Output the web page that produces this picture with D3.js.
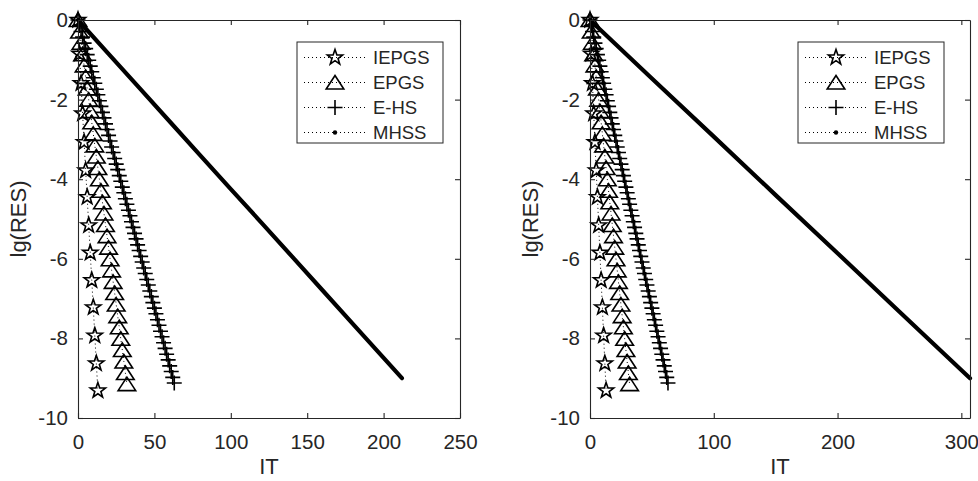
<!DOCTYPE html>
<html><head><meta charset="utf-8">
<script src="https://cdn.jsdelivr.net/npm/d3@7"></script>
<style>
body{margin:0;background:#fff}
svg text{font-family:"Liberation Sans",Arial,Helvetica,sans-serif;fill:#262626}
</style>
</head><body>
<svg id="c" width="978" height="481"></svg>
<script>
// ---------------- data ----------------
const iepgsIT  = [0,1,2,3,4,5,6,7,8,9,10,11,12,13];
const iepgsRES = [0,-0.85,-1.59,-2.35,-3.07,-3.78,-4.45,-5.16,-5.85,-6.54,-7.22,-7.93,-8.63,-9.31];

const epgsIT  = [0,1,2,3,4,5,6,7,8,9,10,11,12,13,14,15,16,17,18,19,20,21,22,23,24,25,26,27,28,29,30,31,32];
const epgsRES = [0,-0.29,-0.57,-0.86,-1.14,-1.43,-1.72,-2.00,-2.29,-2.57,-2.86,-3.15,-3.43,-3.72,-4.00,-4.29,-4.58,-4.86,-5.15,-5.43,-5.72,-6.01,-6.29,-6.58,-6.86,-7.15,-7.44,-7.72,-8.01,-8.29,-8.58,-8.87,-9.15];

const ehsIT  = [0,1,2,3,4,5,6,7,8,9,10,11,12,13,14,15,16,17,18,19,20,21,22,23,24,25,26,27,28,29,30,31,32,33,34,35,36,37,38,39,40,41,42,43,44,45,46,47,48,49,50,51,52,53,54,55,56,57,58,59,60,61,62,63];
const ehsRES = [0,-0.14,-0.29,-0.43,-0.58,-0.72,-0.87,-1.01,-1.16,-1.30,-1.45,-1.59,-1.74,-1.88,-2.03,-2.17,-2.32,-2.46,-2.61,-2.75,-2.90,-3.04,-3.19,-3.33,-3.48,-3.62,-3.76,-3.91,-4.05,-4.20,-4.34,-4.49,-4.63,-4.78,-4.92,-5.07,-5.21,-5.36,-5.50,-5.65,-5.79,-5.94,-6.08,-6.23,-6.37,-6.52,-6.66,-6.81,-6.95,-7.10,-7.24,-7.38,-7.53,-7.67,-7.82,-7.96,-8.11,-8.25,-8.40,-8.54,-8.69,-8.83,-8.98,-9.12];

// MHSS (dense dot markers forming a solid band) – readings along the band
const mhssLeftIT   = [0,20,40,60,80,100,120,140,160,180,200,212];
const mhssLeftRES  = [0,-0.85,-1.70,-2.55,-3.40,-4.25,-5.09,-5.94,-6.79,-7.64,-8.49,-9.00];
const mhssRightIT  = [0,50,100,150,200,250,307];
const mhssRightRES = [0,-1.47,-2.93,-4.40,-5.86,-7.33,-9.00];

const xTicksLeft  = [0,50,100,150,200,250];
const xTicksRight = [0,100,200,300];
const yTicks      = [0,-2,-4,-6,-8,-10];
const seriesNames = ["IEPGS","EPGS","E-HS","MHSS"];
const xLabel = "IT", yLabel = "lg(RES)";

// ---------------- drawing ----------------
const svg = d3.select("#c");
const zip = (xs, ys) => xs.map((x,i)=>({x, y: ys[i]}));

function starPath(R){
  const r = R*0.40, pts=[];
  for(let k=0;k<10;k++){
    const a = -Math.PI/2 + k*Math.PI/5, rr = k%2? r : R;
    pts.push([rr*Math.cos(a), rr*Math.sin(a)]);
  }
  return "M"+pts.map(p=>p[0].toFixed(2)+","+p[1].toFixed(2)).join("L")+"Z";
}
const markerPaths = {
  star: starPath(8),
  tri: "M0,-7L8.8,6.5L-8.8,6.5Z",
  plus: "M-7.5,0H7.5M0,-7.5V7.5"
};

const panels = [
  {left:78, right:460, xMax:250, xTicks:xTicksLeft,  mIT:mhssLeftIT,  mRES:mhssLeftRES, boxL:297},
  {left:590,right:970, xMax:307, xTicks:xTicksRight, mIT:mhssRightIT, mRES:mhssRightRES, boxL:798}
];
const plotTop = 20, plotBottom = 418;
const axCol = "#262626";

panels.forEach(p => {
  const g = svg.append("g");
  const x = d3.scaleLinear().domain([0,p.xMax]).range([p.left,p.right]);
  const y = d3.scaleLinear().domain([-10,0]).range([plotBottom,plotTop]);

  const series = [
    {name:seriesNames[0], data:zip(iepgsIT,iepgsRES), marker:"star"},
    {name:seriesNames[1], data:zip(epgsIT,epgsRES), marker:"tri"},
    {name:seriesNames[2], data:zip(ehsIT,ehsRES), marker:"plus"},
    {name:seriesNames[3], data:zip(p.mIT,p.mRES), marker:"dot"}
  ];

  const line = d3.line().x(d=>x(d.x)).y(d=>y(d.y));
  const plot = g.append("g");

  series.forEach(s => {
    if(s.marker==="dot"){
      plot.append("path").datum(s.data).attr("d",line)
        .attr("fill","none").attr("stroke","#000").attr("stroke-width",4.2)
        .attr("stroke-linecap","round");
    } else {
      plot.append("path").datum(s.data).attr("d",line)
        .attr("fill","none").attr("stroke","#000").attr("stroke-width",1)
        .attr("stroke-dasharray","1,3");
      plot.selectAll(null).data(s.data).enter().append("path")
        .attr("transform",d=>`translate(${x(d.x)},${y(d.y)})`)
        .attr("d",markerPaths[s.marker])
        .attr("fill","none").attr("stroke","#000").attr("stroke-width",1.6)
        .attr("stroke-linejoin","miter");
    }
  });

  // axes (MATLAB box style, inward ticks)
  const ax = g.append("g");
  ax.append("g").attr("transform",`translate(0,${plotBottom})`)
    .call(d3.axisBottom(x).tickValues(p.xTicks).tickSizeInner(-5).tickSizeOuter(0).tickPadding(16).tickFormat(d3.format("d")));
  ax.append("g").attr("transform",`translate(0,${plotTop})`)
    .call(d3.axisTop(x).tickValues(p.xTicks).tickSizeInner(-5).tickSizeOuter(0).tickFormat(""));
  ax.append("g").attr("transform",`translate(${p.left},0)`)
    .call(d3.axisLeft(y).tickValues(yTicks).tickSizeInner(-5).tickSizeOuter(0).tickPadding(10).tickFormat(d=>String(d)));
  ax.append("g").attr("transform",`translate(${p.right},0)`)
    .call(d3.axisRight(y).tickValues(yTicks).tickSizeInner(-5).tickSizeOuter(0).tickFormat(""));
  ax.selectAll(".domain").attr("stroke",axCol).attr("stroke-width",1.1);
  ax.selectAll(".tick line").attr("stroke",axCol).attr("stroke-width",1.1);
  ax.selectAll(".tick text").style("font-size","20.5px").attr("fill",axCol)
    .style("font-family","'Liberation Sans',Arial,sans-serif");

  // axis labels
  g.append("text").attr("x",(p.left+p.right)/2).attr("y",474)
    .attr("text-anchor","middle").style("font-size","22px").text(xLabel);
  g.append("text").attr("transform",`translate(${p.left-52},${(plotTop+plotBottom)/2}) rotate(-90)`)
    .attr("text-anchor","middle").style("font-size","22px").text(yLabel);

  // legend
  const boxL = p.boxL, boxR = boxL + 146;
  const lg = g.append("g");
  lg.append("rect").attr("x",boxL).attr("y",42).attr("width",boxR-boxL).attr("height",101)
    .attr("fill","#fff").attr("stroke",axCol).attr("stroke-width",1);
  series.forEach((s,i) => {
    const cy = 57.5 + i*25;
    lg.append("line").attr("x1",boxL+7).attr("x2",boxL+68).attr("y1",cy).attr("y2",cy)
      .attr("stroke","#000").attr("stroke-width",1).attr("stroke-dasharray","1,3");
    const mx = boxL+38;
    if(s.marker==="dot"){
      lg.append("circle").attr("cx",mx).attr("cy",cy).attr("r",2.2).attr("fill","#000");
    } else {
      lg.append("path").attr("transform",`translate(${mx},${cy})`).attr("d",markerPaths[s.marker])
        .attr("fill","none").attr("stroke","#000").attr("stroke-width",1.6);
    }
    lg.append("text").attr("x",boxL+76).attr("y",cy+6.5).style("font-size","18.5px").text(s.name);
  });
});
</script>
</body></html>
